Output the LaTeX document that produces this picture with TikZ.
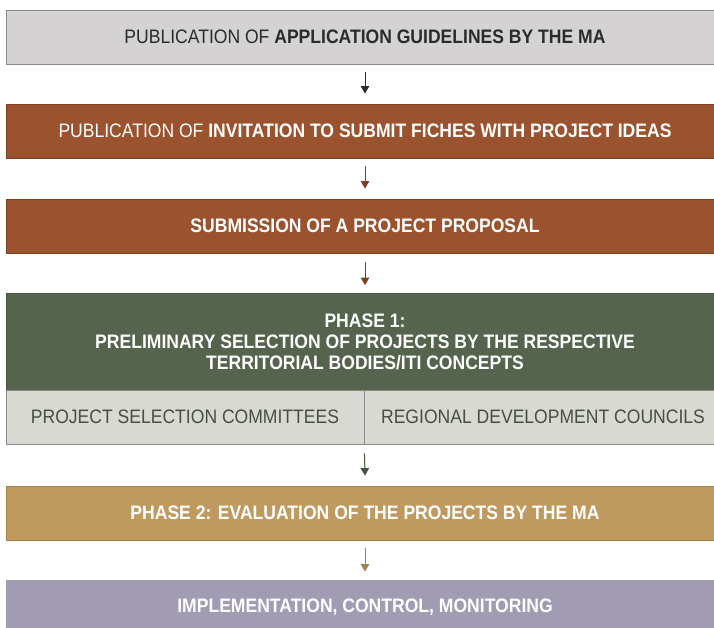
\documentclass[tikz,border=0pt]{standalone}
\usepackage{fontspec}
\setmainfont{Liberation Sans}[FakeStretch=0.90]
\usetikzlibrary{arrows.meta}
\definecolor{gbox}{HTML}{D4D2D3}
\definecolor{gline}{HTML}{8C8B8B}
\definecolor{brown}{HTML}{9A532E}
\definecolor{brownl}{HTML}{7E3F20}
\definecolor{green}{HTML}{56634D}
\definecolor{greenl}{HTML}{48533F}
\definecolor{lgray}{HTML}{D8D9D3}
\definecolor{gold}{HTML}{BE9A5E}
\definecolor{goldl}{HTML}{A5804A}
\definecolor{lav}{HTML}{A19CB4}
\definecolor{dtext}{HTML}{2B2B2B}
\definecolor{gtext}{HTML}{474F43}
\tikzset{
  box/.style={rectangle, minimum width=718pt, minimum height=54pt, inner sep=0pt,
    font=\fontsize{19.5}{21}\selectfont, line width=0.9pt, align=center},
  cell/.style={rectangle, minimum width=358pt, minimum height=54pt, inner sep=0pt,
    font=\fontsize{19.5}{21}\selectfont, line width=0.9pt, fill=lgray, draw=gline, text=gtext},
  arr/.style={line width=1pt, -{Triangle[width=8.5pt,length=7.5pt]}}
}
\begin{document}
\begin{tikzpicture}[x=1pt,y=-1pt]
\useasboundingbox (0,0) rectangle (714,627);
\node[box, fill=gbox, draw=gline, text=dtext] (b1) at (365,37) {PUBLICATION OF \textbf{APPLICATION GUIDELINES BY THE MA}};
\node[box, fill=brown, draw=brownl, text=white] (b2) at (365,131) {PUBLICATION OF \textbf{INVITATION TO SUBMIT FICHES WITH PROJECT IDEAS}};
\node[box, fill=brown, draw=brownl, text=white] (b3) at (365,226) {\textbf{SUBMISSION OF A PROJECT PROPOSAL}};
\node[box, fill=green, draw=greenl, text=white, minimum height=97pt, font=\fontsize{19.5}{21}\selectfont\bfseries] (b4) at (365,342) {PHASE 1:\\PRELIMINARY SELECTION OF PROJECTS BY THE RESPECTIVE\\TERRITORIAL BODIES/ITI CONCEPTS};
\node[cell] (c1) at (185,417) {PROJECT SELECTION COMMITTEES};
\node[cell] (c2) at (543,417) {REGIONAL DEVELOPMENT COUNCILS};
\node[box, fill=gold, draw=goldl, text=white] (b5) at (365,513) {\textbf{PHASE 2: EVALUATION OF THE PROJECTS BY THE MA}};
\node[box, fill=lav, draw=lav, text=white] (b6) at (365,607) {\textbf{IMPLEMENTATION, CONTROL, MONITORING}};
\draw[arr, draw=dtext, fill=dtext] ([yshift=-8pt]b1.south) -- ([yshift=10pt]b2.north);
\draw[arr, draw=brownl, fill=brownl] ([yshift=-8pt]b2.south) -- ([yshift=10pt]b3.north);
\draw[arr, draw=brownl, fill=brownl] ([yshift=-9pt]b3.south) -- ([yshift=8pt]b4.north);
\draw[arr, draw=greenl, fill=greenl] ([yshift=-9pt]c1.south east) -- ([yshift=10pt]b5.north);
\draw[arr, draw=goldl, fill=goldl] ([yshift=-8pt]b5.south) -- ([yshift=8pt]b6.north);
\end{tikzpicture}
\end{document}
